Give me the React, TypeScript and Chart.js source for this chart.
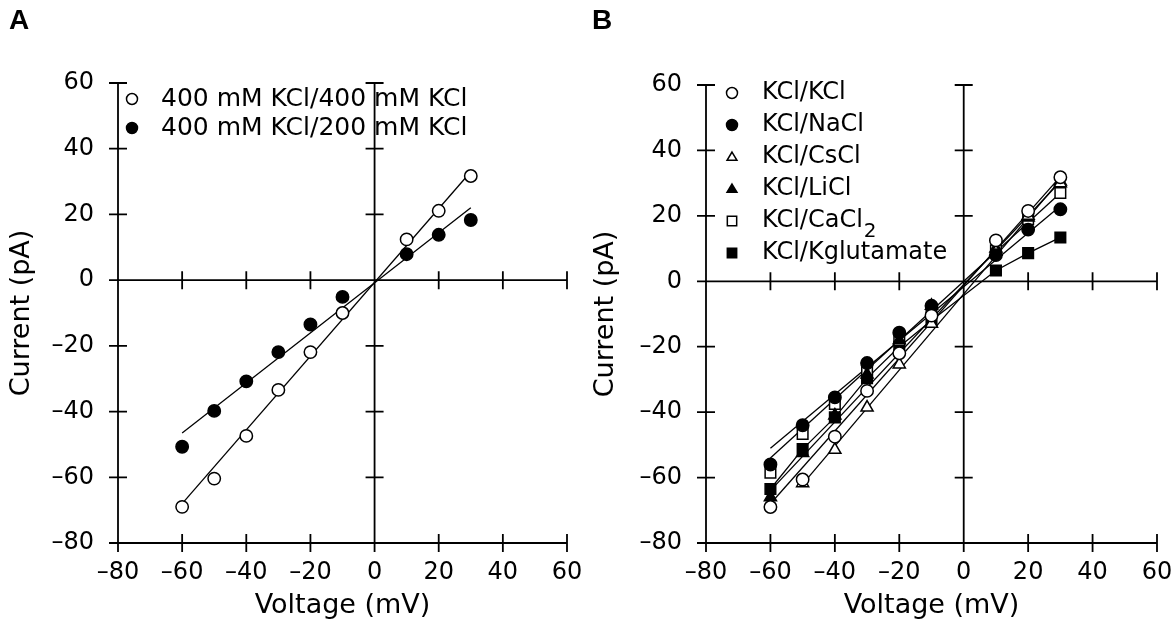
import React, { useEffect, useRef } from 'react';
import { Chart, registerables } from 'chart.js';

Chart.register(...registerables);

// ---------- shared axis data ----------
const xTickValues = [-80, -60, -40, -20, 0, 20, 40, 60];
const yTickValues = [-80, -60, -40, -20, 0, 20, 40, 60];
const voltages = [-60, -50, -40, -30, -20, -10, 10, 20, 30];
const fitVoltages = [-60, 30];

// ---------- panel A data ----------
const aLabels = ['400 mM KCl/400 mM KCl', '400 mM KCl/200 mM KCl'];
const aKcl400 = [-69, -60.4, -47.4, -33.4, -21.9, -10, 12.4, 21.1, 31.7];
const aKcl200 = [-50.7, -39.8, -30.8, -21.9, -13.5, -5.1, 7.9, 13.8, 18.3];
const aFit400 = [-68, 33];
const aFit200 = [-46.5, 22];

// ---------- panel B data ----------
const bLabels = ['KCl/KCl', 'KCl/NaCl', 'KCl/CsCl', 'KCl/LiCl', 'KCl/CaCl₂', 'KCl/Kglutamate'];
const bKcl = [-69, -60.6, -47.5, -33.5, -22, -10.5, 12.5, 21.5, 31.8];
const bNacl = [-56, -44, -35.5, -25, -15.7, -7.5, 8, 15.8, 22];
const bCscl = [null, -61.7, -51.5, -38.6, -25.4, -13, 9, 20, 30];
const bLicl = [-66, -52.5, -41, -28.5, -18, -7.5, 10, 19.5, 30.5];
const bCacl2 = [-58.5, -46.7, -37.5, -27, -18, -9, 9.5, 19, 27];
const bKglut = [-63.5, -51.3, -41.6, -29.6, -20, -12, 3.3, 8.6, 13.4];
const bFitKcl = [-68, 32];
const bFitNacl = [-51, 23];
const bFitCsclVoltages = [-50, 30];
const bFitCscl = [-62, 31];
const bFitLicl = [-64, 30.5];
const bFitCacl2 = [-54, 27];

const FONT = "'DejaVu Sans', sans-serif";

type Sym = { style: 'circle' | 'triangle' | 'rect'; filled: boolean };

function pts(xs: number[], ys: (number | null)[]) {
  return xs.map((x, i) => ({ x, y: ys[i] })).filter((p) => p.y !== null);
}

function markerDataset(label: string, ys: (number | null)[], sym: Sym) {
  const radius = sym.style === 'rect' ? 7.5 : sym.style === 'triangle' ? 7 : 6.2;
  return {
    label,
    data: pts(voltages, ys),
    showLine: false,
    pointStyle: sym.style,
    pointRadius: radius,
    pointHoverRadius: radius,
    pointBackgroundColor: sym.filled ? '#000' : '#fff',
    pointBorderColor: '#000',
    pointBorderWidth: 1.5,
    order: 1,
    sym,
  };
}

function lineDataset(xs: number[], ys: number[]) {
  return {
    label: '',
    data: pts(xs, ys),
    showLine: true,
    pointRadius: 0,
    borderColor: '#000',
    borderWidth: 1.3,
    tension: 0,
    order: 10,
  };
}

function drawSym(ctx: CanvasRenderingContext2D, sym: Sym, x: number, y: number, r: number) {
  ctx.beginPath();
  if (sym.style === 'circle') {
    ctx.arc(x, y, r, 0, Math.PI * 2);
  } else if (sym.style === 'triangle') {
    const h = r * 1.5;
    ctx.moveTo(x, y - h * 0.6);
    ctx.lineTo(x + r * 0.9, y + h * 0.4);
    ctx.lineTo(x - r * 0.9, y + h * 0.4);
    ctx.closePath();
  } else {
    ctx.rect(x - r * 0.85, y - r * 0.85, r * 1.7, r * 1.7);
  }
  ctx.fillStyle = sym.filled ? '#000' : '#fff';
  ctx.fill();
  ctx.lineWidth = 1.5;
  ctx.strokeStyle = '#000';
  ctx.stroke();
}

const crossAxesPlugin = {
  id: 'crossAxes',
  beforeDatasetsDraw(chart: any) {
    const { ctx, scales } = chart;
    const xs = scales.x;
    const ys = scales.y;
    const L = xs.getPixelForValue(xTickValues[0]);
    const R = xs.getPixelForValue(xTickValues[xTickValues.length - 1]);
    const T = ys.getPixelForValue(yTickValues[yTickValues.length - 1]);
    const B = ys.getPixelForValue(yTickValues[0]);
    const x0 = xs.getPixelForValue(0);
    const y0 = ys.getPixelForValue(0);
    const t = 9;
    ctx.save();
    ctx.strokeStyle = '#000';
    ctx.lineWidth = 1.8;
    ctx.beginPath();
    ctx.moveTo(L, T); ctx.lineTo(L, B);
    ctx.moveTo(x0, T); ctx.lineTo(x0, B);
    ctx.moveTo(L, B); ctx.lineTo(R, B);
    ctx.moveTo(L, y0); ctx.lineTo(R, y0);
    for (const v of yTickValues) {
      const py = ys.getPixelForValue(v);
      ctx.moveTo(L - t, py); ctx.lineTo(L + t, py);
      ctx.moveTo(x0 - t, py); ctx.lineTo(x0 + t, py);
    }
    for (const v of xTickValues) {
      const px = xs.getPixelForValue(v);
      ctx.moveTo(px, B - t); ctx.lineTo(px, B + t);
      ctx.moveTo(px, y0 - t); ctx.lineTo(px, y0 + t);
    }
    ctx.stroke();
    ctx.restore();
  },
};

const symLegendPlugin = {
  id: 'symLegend',
  afterDatasetsDraw(chart: any, _args: any, opts: any) {
    const { ctx } = chart;
    const items = chart.data.datasets.filter((d: any) => d.sym);
    ctx.save();
    items.forEach((d: any, i: number) => {
      const y = opts.y + i * opts.gap;
      drawSym(ctx, d.sym, opts.markerX, y, opts.markerR);
      ctx.fillStyle = '#000';
      ctx.textBaseline = 'middle';
      ctx.textAlign = 'left';
      ctx.font = `${opts.size}px ${FONT}`;
      const text: string = d.label;
      if (text.endsWith('₂')) {
        const base = text.slice(0, -1);
        ctx.fillText(base, opts.textX, y);
        const w = ctx.measureText(base).width;
        ctx.font = `${Math.round(opts.size * 0.85)}px ${FONT}`;
        ctx.fillText('2', opts.textX + w + 1, y + opts.size * 0.45);
      } else {
        ctx.fillText(text, opts.textX, y);
      }
    });
    ctx.restore();
  },
};

function tickLabel(v: number) {
  return v < 0 ? '–' + Math.abs(v) : String(v);
}

function makeConfig(datasets: any[], lay: any) {
  return {
    type: 'scatter',
    data: { datasets },
    plugins: [crossAxesPlugin, symLegendPlugin],
    options: {
      animation: false,
      responsive: false,
      devicePixelRatio: 1,
      events: [],
      layout: { padding: { top: lay.top, right: lay.right, left: 0, bottom: 0 } },
      plugins: {
        legend: { display: false },
        tooltip: { enabled: false },
        symLegend: lay.legend,
      },
      scales: {
        x: {
          type: 'linear',
          min: xTickValues[0],
          max: xTickValues[xTickValues.length - 1],
          afterBuildTicks: (s: any) => { s.ticks = xTickValues.map((value) => ({ value })); },
          afterFit: (s: any) => { s.height = lay.xHeight; s.paddingLeft = 0; s.paddingRight = 0; },
          grid: { display: false, drawTicks: false },
          border: { display: false },
          ticks: {
            color: '#000',
            font: { family: FONT, size: 24 },
            padding: 15,
            maxRotation: 0,
            autoSkip: false,
            callback: (v: any) => tickLabel(Number(v)),
          },
          title: {
            display: true,
            text: 'Voltage (mV)',
            color: '#000',
            font: { family: FONT, size: 27 },
            padding: { top: 0, bottom: 13 },
          },
        },
        y: {
          type: 'linear',
          min: yTickValues[0],
          max: yTickValues[yTickValues.length - 1],
          afterBuildTicks: (s: any) => { s.ticks = yTickValues.map((value) => ({ value })); },
          afterFit: (s: any) => { s.width = lay.yWidth; s.paddingTop = 0; s.paddingBottom = 0; },
          grid: { display: false, drawTicks: false },
          border: { display: false },
          ticks: {
            color: '#000',
            font: { family: FONT, size: 24 },
            padding: 24,
            autoSkip: false,
            callback: (v: any) => tickLabel(Number(v)),
          },
          title: {
            display: true,
            text: 'Current (pA)',
            color: '#000',
            font: { family: FONT, size: 27 },
            padding: { top: lay.yTitlePad, bottom: 0 },
          },
        },
      },
    },
  };
}

function Panel({ left, width, datasets, lay }: any) {
  const ref = useRef<HTMLCanvasElement>(null);
  useEffect(() => {
    const chart = new Chart(ref.current as HTMLCanvasElement, makeConfig(datasets, lay) as any);
    return () => chart.destroy();
  }, []);
  return (
    <canvas
      ref={ref}
      width={width}
      height={635}
      style={{ position: 'absolute', left, top: 0, width, height: 635 }}
    />
  );
}

const panelADatasets = [
  markerDataset(aLabels[0], aKcl400, { style: 'circle', filled: false }),
  markerDataset(aLabels[1], aKcl200, { style: 'circle', filled: true }),
  lineDataset(fitVoltages, aFit400),
  lineDataset(fitVoltages, aFit200),
];

const panelBDatasets = [
  markerDataset(bLabels[0], bKcl, { style: 'circle', filled: false }),
  markerDataset(bLabels[1], bNacl, { style: 'circle', filled: true }),
  markerDataset(bLabels[2], bCscl, { style: 'triangle', filled: false }),
  markerDataset(bLabels[3], bLicl, { style: 'triangle', filled: true }),
  markerDataset(bLabels[4], bCacl2, { style: 'rect', filled: false }),
  markerDataset(bLabels[5], bKglut, { style: 'rect', filled: true }),
  lineDataset(fitVoltages, bFitKcl),
  lineDataset(fitVoltages, bFitNacl),
  lineDataset(bFitCsclVoltages, bFitCscl),
  lineDataset(fitVoltages, bFitLicl),
  lineDataset(fitVoltages, bFitCacl2),
  lineDataset(voltages, bKglut),
];

const layA = {
  top: 83, right: 18, xHeight: 92, yWidth: 118, yTitlePad: 6,
  legend: { markerX: 132, textX: 161, y: 99, gap: 29, size: 25, markerR: 5.5 },
};
const layB = {
  top: 85, right: 14, xHeight: 92, yWidth: 126, yTitlePad: 10,
  legend: { markerX: 152, textX: 182, y: 93, gap: 32, size: 24, markerR: 5.5 },
};

export default function App() {
  return (
    <div style={{ position: 'fixed', left: 0, top: 0, width: 1171, height: 635, background: '#fff', overflow: 'hidden' }}>
      <Panel left={0} width={585} datasets={panelADatasets} lay={layA} />
      <Panel left={580} width={591} datasets={panelBDatasets} lay={layB} />
      <div style={{ position: 'absolute', left: 9, top: 6, font: "bold 28px 'Liberation Sans', Arial, sans-serif", lineHeight: '28px' }}>A</div>
      <div style={{ position: 'absolute', left: 592, top: 6, font: "bold 28px 'Liberation Sans', Arial, sans-serif", lineHeight: '28px' }}>B</div>
    </div>
  );
}
